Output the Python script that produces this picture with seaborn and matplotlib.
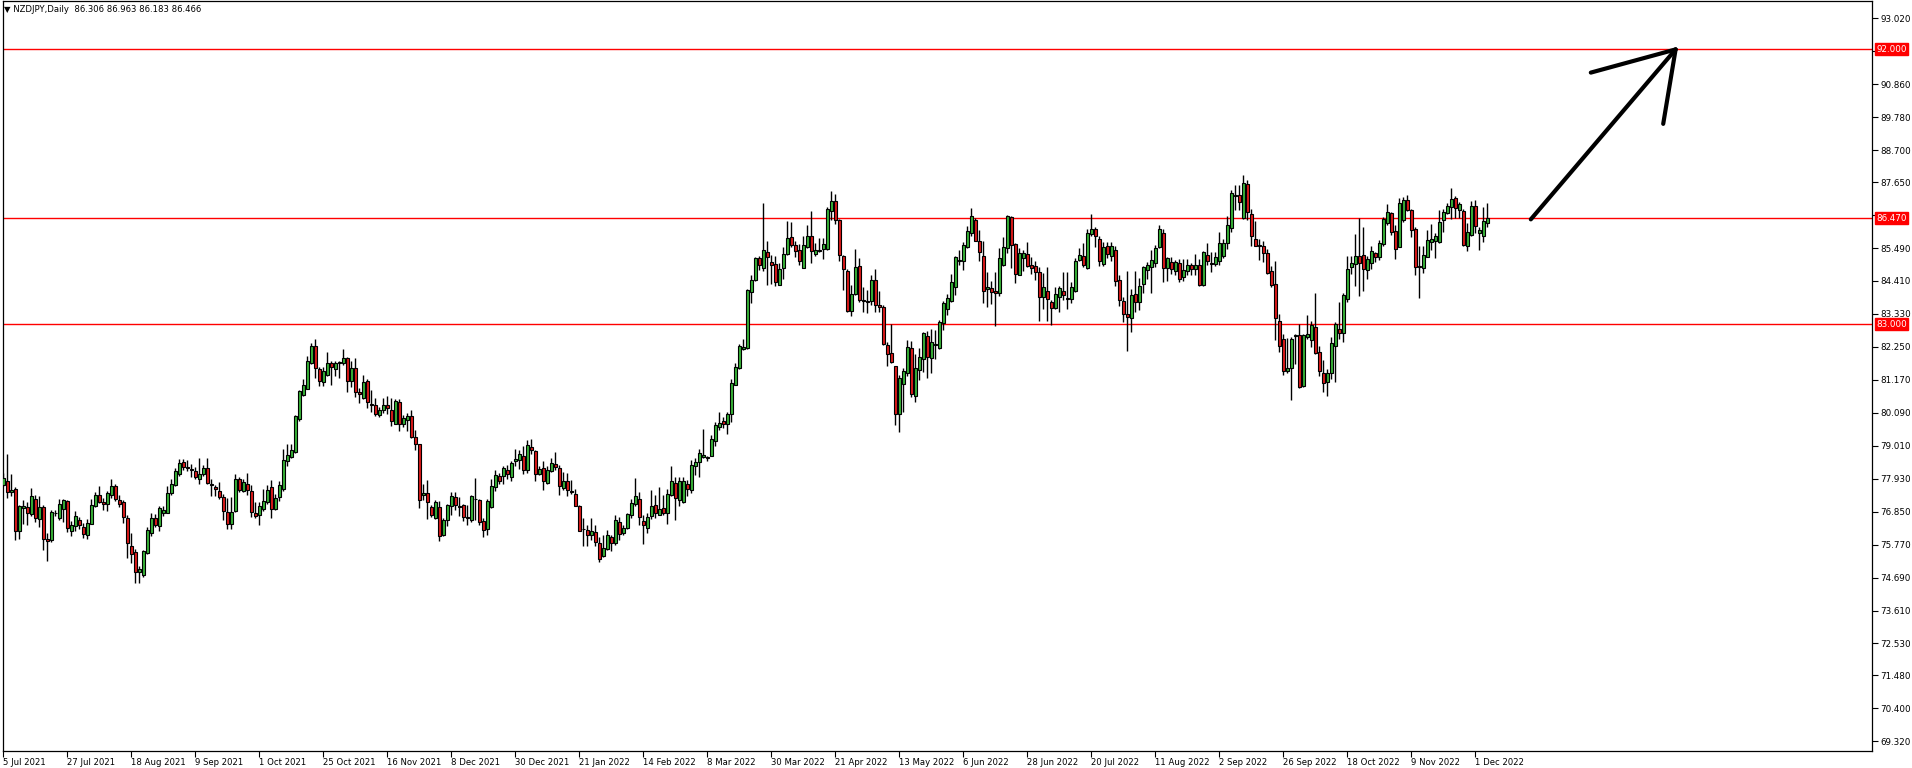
import numpy as np
import pandas as pd
import matplotlib
matplotlib.use('Agg')
import matplotlib.pyplot as plt
import seaborn as sns

sns.set_theme(style='white')
plt.rcParams['font.family'] = ['DejaVu Sans']

# ── Data ────────────────────────────────────────────────────
title = '\u25bc NZDJPY,Daily  86.306 86.963 86.183 86.466'
start_date = '2021-07-05'

opens = [
    77.72, 77.85, 77.49, 77.60, 76.20, 76.97, 77.01, 76.77, 77.27, 76.61,
    77.01, 75.94, 75.91, 76.82, 76.64, 76.95, 77.21, 76.23, 76.38, 76.58,
    76.35, 76.10, 76.46, 77.03, 77.39, 77.16, 77.09, 77.38, 77.70, 77.24,
    77.17, 76.65, 75.73, 75.53, 74.86, 74.76, 75.48, 76.14, 76.64, 76.37,
    76.82, 76.82, 77.45, 77.72, 78.07, 78.47, 78.31, 78.26, 78.18, 77.91,
    78.10, 78.29, 77.76, 77.67, 77.53, 77.32, 76.84, 76.45, 76.88, 77.91,
    77.52, 77.76, 77.53, 76.81, 76.75, 76.93, 77.17, 77.66, 76.93, 77.33,
    77.58, 78.51, 78.64, 78.81, 79.88, 80.67, 80.87, 81.72, 82.28, 81.53,
    81.10, 81.32, 81.72, 81.53, 81.71, 81.72, 81.89, 81.12, 81.56, 80.77,
    80.58, 81.14, 80.38, 80.33, 80.01, 80.18, 80.35, 80.19, 79.73, 80.44,
    79.71, 79.85, 79.99, 79.30, 79.07, 77.39, 77.47, 77.00, 76.64, 77.00,
    76.07, 76.57, 77.02, 77.33, 77.04, 77.08, 76.66, 76.57, 77.27, 77.24,
    76.55, 76.27, 76.99, 77.66, 78.01, 78.01, 78.22, 78.00, 78.50, 78.53,
    78.67, 78.20, 78.98, 78.85, 78.08, 78.28, 77.80, 78.18, 78.41, 78.28,
    77.62, 77.85, 77.53, 77.44, 77.04, 76.29, 76.26, 76.07, 76.18, 75.83,
    75.39, 75.61, 76.03, 75.82, 76.51, 76.15, 76.31, 76.73, 77.09, 77.27,
    76.55, 76.33, 76.70, 77.08, 76.75, 76.98, 76.80, 77.38, 77.80, 77.22,
    77.16, 77.76, 77.57, 78.33, 78.47, 78.64, 78.65, 78.69, 79.18, 79.62,
    79.83, 79.71, 80.04, 81.01, 81.57, 82.18, 82.22, 84.05, 84.45, 85.16,
    84.83, 85.37, 85.03, 84.97, 84.27, 84.83, 85.29, 85.86, 85.60, 85.41,
    84.83, 85.52, 85.88, 85.29, 85.42, 85.46, 85.46, 86.69, 87.03, 86.42,
    85.23, 84.75, 83.44, 83.98, 84.91, 83.79, 83.75, 83.75, 84.44, 83.61,
    83.57, 82.31, 82.06, 81.62, 80.05, 81.02, 81.39, 82.22, 80.63, 81.49,
    81.86, 82.61, 81.90, 82.30, 82.21, 83.02, 83.50, 83.74, 84.21, 85.05,
    85.07, 85.53, 85.98, 86.42, 85.72, 85.22, 84.14, 84.17, 84.07, 84.03,
    84.95, 85.48, 86.50, 85.61, 84.62, 85.15, 85.29, 84.93, 84.91, 84.70,
    83.88, 84.07, 83.71, 83.52, 83.88, 84.09, 83.84, 83.81, 84.09, 85.11,
    85.22, 84.84, 85.96, 86.11, 85.78, 84.96, 85.55, 85.24, 85.43, 84.43,
    83.74, 83.33, 83.19, 83.97, 83.71, 84.32, 84.76, 84.88, 85.01, 85.51,
    85.97, 84.83, 85.02, 84.74, 84.99, 84.53, 84.74, 84.92, 84.79, 84.92,
    84.28, 85.25, 85.00, 84.96, 85.08, 85.22, 85.64, 86.14, 87.21, 87.23,
    86.47, 87.58, 86.60, 85.79, 85.59, 85.55, 85.32, 84.74, 84.30, 83.10,
    82.51, 81.47, 81.55, 82.60, 82.64, 80.98, 82.56, 82.46, 82.90, 82.07,
    81.38, 81.09, 81.41, 82.29, 82.84, 82.70, 83.82, 84.86, 84.96, 85.22,
    85.26, 84.76, 84.99, 85.32, 85.18, 85.61, 86.31, 86.64, 86.05, 85.54,
    86.40, 87.06, 86.74, 86.11, 84.89, 84.83, 85.21, 85.68, 85.71, 85.68,
    86.42, 86.63, 86.85, 87.13, 86.73, 86.70, 85.57, 85.93, 86.86, 85.98,
    85.90, 86.306,
]
highs = [
    78.11, 78.75, 78.09, 77.65, 77.08, 77.24, 77.16, 77.63, 77.41, 77.37,
    77.08, 76.16, 76.91, 76.91, 77.26, 77.28, 77.24, 76.53, 76.86, 76.69,
    76.49, 76.61, 77.25, 77.51, 77.69, 77.29, 77.53, 77.91, 77.75, 77.38,
    77.23, 76.73, 76.16, 75.63, 75.06, 75.59, 76.35, 76.79, 76.76, 77.05,
    77.02, 77.68, 77.92, 78.29, 78.58, 78.58, 78.53, 78.42, 78.30, 78.60,
    78.39, 78.60, 77.93, 77.73, 77.82, 77.44, 77.30, 77.33, 78.07, 78.00,
    77.92, 78.11, 77.71, 77.18, 77.16, 77.60, 77.71, 77.89, 77.44, 77.84,
    78.91, 79.07, 79.07, 80.03, 80.85, 81.20, 81.96, 82.38, 82.52, 81.58,
    81.58, 82.08, 81.79, 81.79, 81.79, 82.18, 81.92, 81.79, 81.89, 80.90,
    81.32, 81.20, 80.85, 80.59, 80.27, 80.59, 80.65, 80.58, 80.55, 80.54,
    80.02, 80.09, 80.19, 79.53, 79.08, 77.77, 77.90, 77.06, 77.22, 77.19,
    76.64, 77.11, 77.49, 77.49, 77.33, 77.11, 77.06, 77.41, 77.95, 77.28,
    76.64, 77.28, 77.91, 78.23, 78.12, 78.34, 78.39, 78.50, 78.91, 78.88,
    79.01, 79.21, 79.24, 78.88, 78.34, 78.51, 78.34, 78.62, 78.80, 78.39,
    78.15, 78.11, 77.88, 77.60, 77.08, 76.64, 76.42, 76.65, 76.40, 76.02,
    76.10, 76.26, 76.10, 76.73, 76.66, 76.40, 76.81, 77.27, 77.96, 77.49,
    76.73, 76.81, 77.55, 77.38, 77.65, 77.38, 77.58, 78.34, 77.98, 78.00,
    77.98, 77.89, 78.53, 78.60, 78.91, 79.57, 78.69, 79.35, 79.78, 80.11,
    79.95, 80.13, 81.20, 81.72, 82.35, 82.52, 84.16, 84.62, 85.20, 85.23,
    86.98, 85.73, 85.25, 85.23, 84.99, 85.51, 86.39, 86.34, 85.71, 85.63,
    85.87, 86.25, 86.69, 85.66, 85.83, 85.82, 86.83, 87.35, 87.27, 86.45,
    85.27, 84.79, 84.29, 85.45, 85.16, 84.21, 84.12, 84.62, 84.81, 84.07,
    83.61, 82.41, 83.00, 81.64, 81.32, 81.56, 82.47, 82.43, 82.03, 82.21,
    82.75, 82.76, 82.85, 82.81, 83.12, 83.74, 83.98, 84.64, 85.23, 85.41,
    85.69, 86.21, 86.81, 86.48, 86.08, 85.73, 84.70, 84.40, 84.70, 85.48,
    85.84, 86.57, 86.55, 85.65, 85.49, 85.44, 85.68, 85.19, 85.06, 84.86,
    84.66, 84.86, 83.80, 84.20, 84.26, 84.70, 84.70, 84.37, 85.15, 85.50,
    85.66, 86.12, 86.60, 86.17, 85.90, 85.70, 85.68, 85.68, 85.55, 84.59,
    83.89, 84.73, 84.15, 84.74, 84.51, 84.89, 85.02, 85.42, 85.59, 86.24,
    86.12, 85.20, 85.18, 85.11, 85.13, 85.13, 85.13, 85.00, 85.29, 85.13,
    85.38, 85.66, 85.35, 85.35, 86.02, 85.77, 86.53, 87.39, 87.54, 87.54,
    87.89, 87.72, 86.77, 86.36, 85.77, 85.72, 85.46, 84.91, 85.07, 83.33,
    82.67, 82.54, 82.57, 82.67, 83.00, 82.67, 83.30, 83.11, 84.02, 82.29,
    81.82, 81.53, 82.57, 83.08, 83.71, 84.02, 85.22, 85.22, 85.95, 86.46,
    86.19, 85.24, 85.57, 85.37, 85.76, 86.50, 86.93, 86.68, 86.25, 87.13,
    87.15, 87.24, 86.77, 86.17, 85.55, 85.55, 86.09, 86.28, 85.97, 86.74,
    86.77, 86.97, 87.46, 87.18, 86.99, 86.77, 86.30, 87.04, 87.08, 86.17,
    86.85, 86.963,
]
lows = [
    77.70, 77.29, 77.36, 75.91, 75.94, 76.45, 76.40, 76.70, 76.51, 76.34,
    75.58, 75.22, 75.87, 76.70, 76.56, 76.50, 76.17, 76.05, 76.22, 76.27,
    75.98, 75.96, 76.44, 76.99, 77.14, 76.91, 76.88, 77.29, 77.21, 77.01,
    76.49, 75.33, 75.16, 74.50, 74.52, 74.72, 75.45, 76.04, 76.34, 76.20,
    76.70, 76.79, 77.39, 77.69, 78.03, 78.23, 78.18, 77.97, 77.93, 77.74,
    78.01, 77.75, 77.35, 77.36, 77.25, 76.56, 76.29, 76.29, 76.85, 77.49,
    77.48, 77.38, 76.69, 76.64, 76.40, 76.86, 77.11, 76.64, 76.89, 77.20,
    77.53, 78.34, 78.62, 78.77, 79.81, 80.63, 80.86, 81.69, 81.23, 80.96,
    80.96, 81.30, 80.99, 81.30, 81.23, 81.67, 80.77, 80.92, 80.60, 80.40,
    80.53, 80.26, 80.11, 79.99, 79.94, 80.09, 80.04, 79.66, 79.71, 79.48,
    79.62, 79.48, 79.28, 78.86, 76.96, 77.22, 76.62, 76.67, 76.62, 75.90,
    76.05, 76.38, 76.73, 76.89, 76.71, 76.55, 76.42, 76.52, 76.57, 76.40,
    76.01, 76.10, 76.97, 77.52, 77.74, 77.74, 77.93, 77.87, 78.36, 78.26,
    78.07, 78.12, 78.75, 77.87, 78.04, 77.55, 77.77, 78.15, 78.20, 77.41,
    77.55, 77.36, 77.44, 77.02, 76.20, 75.72, 75.74, 75.92, 75.74, 75.19,
    75.35, 75.58, 75.55, 75.76, 75.91, 76.07, 76.27, 76.64, 77.05, 76.40,
    75.80, 76.16, 76.61, 76.64, 76.73, 76.73, 76.43, 77.36, 76.58, 77.05,
    77.14, 77.36, 77.46, 78.04, 78.00, 78.62, 78.52, 78.66, 79.00, 79.54,
    79.60, 79.38, 79.78, 80.99, 81.54, 82.14, 82.19, 83.68, 84.42, 84.76,
    84.75, 84.27, 84.32, 84.23, 84.27, 84.48, 85.25, 85.54, 85.20, 84.95,
    84.83, 85.50, 84.99, 85.23, 85.36, 85.14, 85.44, 86.41, 86.29, 85.06,
    84.10, 83.41, 83.25, 83.94, 83.72, 83.39, 83.36, 83.61, 83.39, 83.39,
    82.30, 81.61, 81.72, 79.70, 79.45, 80.11, 81.28, 80.60, 80.46, 81.17,
    81.43, 81.24, 81.39, 81.86, 82.19, 82.82, 83.28, 83.72, 83.96, 84.92,
    84.76, 85.50, 85.90, 85.71, 85.08, 83.69, 83.57, 83.66, 82.95, 83.93,
    84.91, 85.33, 84.84, 84.35, 84.60, 84.75, 84.87, 84.64, 84.44, 83.10,
    83.49, 83.09, 82.98, 83.49, 83.41, 83.80, 83.49, 83.68, 84.06, 85.05,
    84.86, 84.80, 85.87, 85.54, 84.89, 84.91, 85.15, 85.05, 84.23, 83.60,
    83.08, 82.11, 82.73, 83.38, 83.46, 84.02, 84.48, 84.02, 84.86, 85.48,
    84.37, 84.40, 84.64, 84.59, 84.37, 84.40, 84.59, 84.62, 84.59, 84.26,
    84.24, 84.95, 84.70, 84.91, 84.94, 85.17, 85.46, 86.01, 86.75, 86.75,
    86.44, 86.42, 85.55, 85.55, 85.11, 85.02, 84.64, 84.20, 82.49, 82.07,
    81.33, 81.40, 80.52, 81.70, 80.91, 80.95, 82.51, 82.24, 82.02, 81.29,
    80.76, 80.65, 81.20, 81.11, 82.51, 82.42, 83.73, 84.64, 84.26, 83.93,
    84.09, 84.46, 84.80, 85.02, 85.10, 85.57, 86.26, 85.92, 85.13, 85.51,
    86.33, 86.72, 85.86, 84.59, 83.84, 84.67, 85.19, 85.43, 85.15, 85.66,
    86.01, 86.59, 86.44, 86.47, 86.47, 85.55, 85.40, 85.90, 85.98, 85.43,
    85.70, 86.183,
]
closes = [
    77.95, 77.49, 77.57, 76.20, 77.04, 77.04, 76.79, 77.36, 76.64, 77.01,
    75.94, 75.90, 76.84, 76.80, 77.10, 77.24, 76.33, 76.42, 76.71, 76.40,
    76.12, 76.49, 77.08, 77.39, 77.18, 77.09, 77.47, 77.70, 77.27, 77.09,
    76.66, 75.81, 75.45, 74.86, 74.97, 75.57, 76.26, 76.65, 76.40, 76.98,
    76.91, 77.47, 77.75, 78.18, 78.44, 78.30, 78.27, 78.21, 77.97, 78.08,
    78.29, 77.79, 77.71, 77.58, 77.32, 76.86, 76.45, 76.84, 77.93, 77.57,
    77.82, 77.55, 76.84, 76.71, 77.03, 77.20, 77.57, 76.95, 77.31, 77.73,
    78.55, 78.72, 78.88, 79.97, 80.82, 81.01, 81.79, 82.28, 81.56, 81.12,
    81.46, 81.72, 81.58, 81.72, 81.74, 81.89, 81.12, 81.56, 80.77, 80.70,
    81.10, 80.43, 80.36, 80.05, 80.17, 80.35, 80.25, 79.81, 80.49, 79.71,
    79.91, 79.99, 79.30, 79.07, 77.22, 77.47, 77.17, 76.73, 77.17, 76.04,
    76.59, 77.08, 77.36, 77.06, 77.00, 76.66, 76.63, 77.37, 77.28, 76.50,
    76.25, 77.19, 77.69, 78.06, 77.87, 78.29, 78.07, 78.44, 78.58, 78.74,
    78.20, 79.04, 78.86, 78.10, 78.26, 77.85, 78.22, 78.45, 78.30, 77.69,
    77.86, 77.55, 77.50, 77.05, 76.23, 76.27, 76.09, 76.21, 75.87, 75.30,
    75.66, 76.09, 75.81, 76.58, 76.12, 76.32, 76.78, 77.14, 77.37, 76.66,
    76.40, 76.69, 77.04, 76.82, 76.94, 76.79, 77.44, 77.86, 77.29, 77.86,
    77.86, 77.58, 78.39, 78.48, 78.78, 78.71, 78.62, 79.24, 79.70, 79.77,
    79.71, 80.06, 81.07, 81.60, 82.29, 82.25, 84.12, 84.45, 85.16, 84.95,
    85.44, 85.18, 84.95, 84.38, 84.81, 85.29, 85.82, 85.58, 85.39, 85.05,
    85.59, 85.87, 85.38, 85.42, 85.39, 85.62, 86.78, 87.03, 86.40, 85.25,
    84.79, 83.44, 83.98, 84.87, 83.79, 83.75, 83.71, 84.44, 83.61, 83.56,
    82.33, 82.02, 81.75, 80.05, 81.23, 81.47, 82.25, 80.69, 81.56, 81.92,
    82.72, 81.91, 82.41, 82.35, 83.08, 83.69, 83.86, 84.38, 85.19, 85.11,
    85.60, 86.06, 86.55, 85.73, 85.37, 84.09, 84.20, 84.06, 84.01, 85.15,
    85.51, 86.53, 85.60, 84.65, 85.32, 85.34, 84.89, 84.85, 84.72, 83.90,
    84.20, 83.81, 83.52, 83.97, 84.17, 83.95, 83.81, 84.20, 85.06, 85.25,
    84.95, 85.97, 86.11, 85.87, 85.06, 85.54, 85.29, 85.55, 84.42, 83.78,
    83.32, 83.24, 83.94, 83.71, 84.25, 84.87, 84.94, 85.10, 85.48, 86.11,
    84.84, 85.15, 84.79, 85.02, 84.48, 84.77, 84.95, 84.81, 84.92, 84.28,
    85.35, 85.06, 84.96, 85.21, 85.65, 85.65, 86.24, 87.28, 87.23, 86.99,
    87.61, 86.66, 85.90, 85.57, 85.55, 85.32, 84.66, 84.28, 83.19, 82.27,
    81.47, 81.55, 82.51, 82.64, 80.94, 82.64, 82.67, 82.98, 82.05, 81.45,
    81.06, 81.38, 82.38, 83.00, 82.70, 83.95, 84.80, 84.99, 85.22, 84.99,
    84.80, 85.13, 85.38, 85.18, 85.65, 86.44, 86.66, 86.03, 85.46, 86.97,
    87.06, 86.75, 86.09, 84.88, 84.86, 85.25, 85.76, 85.79, 85.88, 86.33,
    86.66, 86.87, 87.09, 86.81, 86.94, 85.59, 86.01, 86.87, 86.20, 86.08,
    86.38, 86.466,
]

levels = [92.0, 86.47, 83.0]
level_labels = ['92.000', '86.470', '83.000']
price_ticks = [93.02, 91.94, 90.86, 89.78, 88.70, 87.65, 86.57, 85.49, 84.41,
               83.33, 82.25, 81.17, 80.09, 79.01, 77.93, 76.85, 75.77, 74.69,
               73.61, 72.53, 71.48, 70.40, 69.32]
hidden_ticks = [91.94, 86.57]   # covered by the red level tags
date_labels = ['5 Jul 2021', '27 Jul 2021', '18 Aug 2021', '9 Sep 2021',
               '1 Oct 2021', '25 Oct 2021', '16 Nov 2021', '8 Dec 2021',
               '30 Dec 2021', '21 Jan 2022', '14 Feb 2022', '8 Mar 2022',
               '30 Mar 2022', '21 Apr 2022', '13 May 2022', '6 Jun 2022',
               '28 Jun 2022', '20 Jul 2022', '11 Aug 2022', '2 Sep 2022',
               '26 Sep 2022', '18 Oct 2022', '9 Nov 2022', '1 Dec 2022']

df = pd.DataFrame({'open': opens, 'high': highs, 'low': lows, 'close': closes})
df['date'] = pd.bdate_range(start_date, periods=len(df))
df['x'] = np.arange(len(df))
df['bull'] = df['close'] >= df['open']

BULL, BEAR = '#38b238', '#dc1a1a'

# ── Figure ──────────────────────────────────────────────
W, H = 1912, 768
fig = plt.figure(figsize=(W / 100, H / 100), dpi=100)
fig.patch.set_facecolor('white')
ax = fig.add_axes([2.5 / W, 1 - 751 / H, (1872 - 2.5) / W, 750 / H])
ax.set_facecolor('white')

# wicks
ax.vlines(df['x'], df['low'], df['high'], colors='black', linewidth=1.0, zorder=2)
# bodies
body_lo = df[['open', 'close']].min(axis=1)
body_h = (df['close'] - df['open']).abs()
ax.bar(df['x'], body_h, bottom=body_lo, width=0.75,
       color=np.where(df['bull'], BULL, BEAR), edgecolor='black',
       linewidth=0.8, zorder=3)

# horizontal levels
for lv in levels:
    ax.axhline(lv, color='#ff0000', linewidth=1.0, zorder=1)

# hand-drawn arrow towards 92.000
arrow_col = 'black'
ax.plot([381.9, 418.1], [86.43, 92.0], color=arrow_col, lw=3, solid_capstyle='round', zorder=4)
ax.plot([396.9, 418.1], [91.24, 92.0], color=arrow_col, lw=3, solid_capstyle='round', zorder=4)
ax.plot([415.0, 418.1], [89.56, 92.0], color=arrow_col, lw=3, solid_capstyle='round', zorder=4)

ax.set_xlim(-0.2, 467.2)
ax.set_ylim(69.005, 93.587)

# right price scale
ax.yaxis.tick_right()
ax.set_yticks(price_ticks)
ax.set_yticklabels(['' if p in hidden_ticks else f'{p:.3f}' for p in price_ticks])
ax.tick_params(axis='y', direction='out', length=4, width=0.8, pad=2,
               labelsize=6.3, colors='black', right=True, left=False)

# bottom time scale
date_index = {d: i for i, d in enumerate(df['date'])}
tick_pos = [date_index[pd.to_datetime(s, format='%d %b %Y')] for s in date_labels]
ax.set_xticks(tick_pos)
ax.set_xticklabels(date_labels, ha='left')
ax.tick_params(axis='x', direction='out', length=4, width=0.8, pad=1,
               labelsize=6.1, colors='black', bottom=True)

for s in ax.spines.values():
    s.set_color('black')
    s.set_linewidth(0.9)
ax.grid(False)

# red price tags for the levels
for lv, lab in zip(levels, level_labels):
    ax.text(1.0022, lv, lab, transform=ax.get_yaxis_transform(), ha='left',
            va='center', color='white', fontsize=6.3, zorder=10, clip_on=False,
            bbox=dict(boxstyle='square,pad=0.18', facecolor='#ff0000',
                      edgecolor='#ff0000'))

fig.text(4 / W, 1 - 10 / H, title, fontsize=6.1, color='black', ha='left', va='center')

fig.savefig('out.png', dpi=100, facecolor='white')
